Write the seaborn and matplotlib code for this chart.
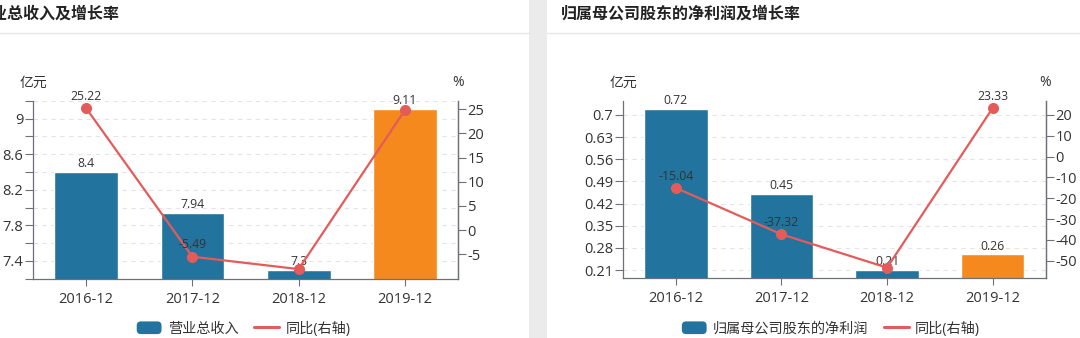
import numpy as np
import pandas as pd
import seaborn as sns
import matplotlib.pyplot as plt
from matplotlib.patches import Rectangle, Patch, FancyBboxPatch
from matplotlib.lines import Line2D
from matplotlib.legend_handler import HandlerPatch

sns.set_theme(style="white")
plt.rcParams["font.family"] = ["Open Sans", "Noto Sans CJK SC", "DejaVu Sans"]
plt.rcParams["axes.unicode_minus"] = False

# ---- data -------------------------------------------------------------
periods = ["2016-12", "2017-12", "2018-12", "2019-12"]

revenue = [8.40, 7.94, 7.30, 9.11]              # 营业总收入 (亿元)
revenue_yoy = [25.22, -5.49, -8.06, 24.79]      # 同比 (%)
revenue_yoy_shown = [True, True, False, False]

profit = [0.72, 0.45, 0.21, 0.26]               # 归母净利润 (亿元)
profit_yoy = [-15.04, -37.32, -53.33, 23.33]    # 同比 (%)
profit_yoy_shown = [True, True, False, True]

revenue_ticks = [7.2, 7.4, 7.6, 7.8, 8.0, 8.2, 8.4, 8.6, 8.8, 9.0, 9.2]
revenue_tick_labels = ["", "7.4", "", "7.8", "", "8.2", "", "8.6", "", "9", ""]
revenue_yoy_ticks = [-5, 0, 5, 10, 15, 20, 25]
profit_ticks = [0.21, 0.28, 0.35, 0.42, 0.49, 0.56, 0.63, 0.7]
profit_tick_labels = ["0.21", "0.28", "0.35", "0.42", "0.49", "0.56", "0.63", "0.7"]
profit_yoy_ticks = [-50, -40, -30, -20, -10, 0, 10, 20]

# ---- style ------------------------------------------------------------
BLUE = "#22739e"
ORANGE = "#f5891d"
RED = "#e35c5a"
AXIS = "#6e7079"
TEXT = "#333333"
GRID = "#e4e4e4"
TICK_SIZE = 10.5
VALUE_SIZE = 8.8

W, H = 1080, 338
fig = plt.figure(figsize=(W / 100, H / 100), dpi=100)
fig.patch.set_facecolor("white")


def px_axes(x0, y0, x1, y1):
    """Axes placed by pixel box (top-left origin)."""
    return fig.add_axes([x0 / W, 1 - y1 / H, (x1 - x0) / W, (y1 - y0) / H])


class RoundedHandler(HandlerPatch):
    def create_artists(self, legend, orig_handle, xdescent, ydescent,
                       width, height, fontsize, trans):
        p = FancyBboxPatch((-xdescent, -ydescent), width, height,
                           boxstyle="round,pad=0,rounding_size=3",
                           facecolor=orig_handle.get_facecolor(),
                           edgecolor="none", transform=trans)
        return [p]


def draw_panel(box, values, yoy, yoy_shown, ylim, ticks, tick_labels,
               ylim2, ticks2, bar_name, legend_center, value_fmt):
    ax = px_axes(*box)
    df = pd.DataFrame({"period": periods, "value": values})
    colors = [BLUE] * (len(periods) - 1) + [ORANGE]
    sns.barplot(data=df, x="period", y="value", hue="period",
                palette=colors, legend=False, width=0.6, ax=ax,
                saturation=1, zorder=2)
    ax.set_ylim(*ylim)
    ax.set_xlim(-0.5, len(periods) - 0.5)
    ax.set_yticks(ticks)
    ax.set_yticklabels(tick_labels)
    ax.set_xlabel("")
    ax.set_ylabel("")
    ax.yaxis.grid(True, color=GRID, linestyle=(0, (4, 4)), linewidth=0.8)
    ax.set_axisbelow(True)

    ax.spines["top"].set_visible(False)
    for s in ["left", "bottom", "right"]:
        ax.spines[s].set_color(AXIS)
        ax.spines[s].set_linewidth(0.9)

    ax.tick_params(axis="y", left=True, direction="out", length=5.5,
                   width=0.8, color=AXIS, labelsize=TICK_SIZE,
                   labelcolor=TEXT, pad=1.5)
    ax.tick_params(axis="x", bottom=True, direction="out", length=5,
                   width=0.8, color=AXIS, labelsize=TICK_SIZE,
                   labelcolor=TEXT, pad=4.5)

    for i, v in enumerate(values):
        ax.annotate(value_fmt(v), (i, v), xytext=(0, 1.2),
                    textcoords="offset points", ha="center", va="bottom",
                    fontsize=VALUE_SIZE, color=TEXT, zorder=3)

    ax2 = ax.twinx()
    sns.lineplot(x=np.arange(len(periods)), y=yoy, ax=ax2, color=RED,
                 linewidth=1.6, marker="o", markersize=7.2,
                 markeredgecolor=RED, markerfacecolor=RED, zorder=4)
    ax2.set_ylim(*ylim2)
    ax2.set_xlim(-0.5, len(periods) - 0.5)
    ax2.set_yticks(ticks2)
    ax2.set_yticklabels([str(t) for t in ticks2])
    ax2.set_ylabel("")
    ax2.grid(False)
    for s in ["top", "left", "bottom"]:
        ax2.spines[s].set_visible(False)
    ax2.spines["right"].set_color(AXIS)
    ax2.spines["right"].set_linewidth(0.9)
    ax2.tick_params(axis="y", right=True, direction="out", length=5.5,
                    width=0.8, color=AXIS, labelsize=TICK_SIZE,
                    labelcolor=TEXT, pad=1.5)

    for i, (v, show) in enumerate(zip(yoy, yoy_shown)):
        if show:
            ax2.annotate(f"{v:.2f}", (i, v), xytext=(0, 3.8),
                         textcoords="offset points", ha="center", va="bottom",
                         fontsize=VALUE_SIZE, color=TEXT, zorder=5)

    # axis unit captions
    x0, y0, x1, y1 = box
    fig.text(x0 / W, 1 - 83 / H, "亿元", ha="center", va="center",
             fontsize=10, color=TEXT)
    fig.text(x1 / W, 1 - 82 / H, "%", ha="center", va="center",
             fontsize=10, color=TEXT)

    handles = [Patch(facecolor=BLUE),
               Line2D([], [], color=RED, linewidth=2.2)]
    ax.legend(handles, [bar_name, "同比(右轴)"], loc="center",
              bbox_to_anchor=(legend_center / W, 1 - 329 / H),
              bbox_transform=fig.transFigure, ncol=2, frameon=False,
              fontsize=10.2, handlelength=1.75, handleheight=1.0,
              handletextpad=0.45, columnspacing=1.1,
              labelcolor=TEXT,
              handler_map={Patch: RoundedHandler()})
    return ax, ax2


# panel backgrounds: grey gutter and title separators
fig.add_artist(Rectangle((529 / W, 0), 18 / W, 1, transform=fig.transFigure,
                         facecolor="#ebebeb", edgecolor="none", zorder=0))
fig.add_artist(Line2D([0, 529 / W], [1 - 32.5 / H] * 2,
                      transform=fig.transFigure, color="#e6e6e6", linewidth=1))
fig.add_artist(Line2D([547 / W, 1], [1 - 32.5 / H] * 2,
                      transform=fig.transFigure, color="#e6e6e6", linewidth=1))

# panel titles (the left panel is scrolled, so its title starts off-canvas)
fig.text(-25 / W, 1 - 15 / H, "营业总收入及增长率", ha="left", va="center",
         fontsize=11.5, fontweight="bold", color="#222222")
fig.text(561 / W, 1 - 15 / H, "归属母公司股东的净利润及增长率", ha="left",
         va="center", fontsize=11.5, fontweight="bold", color="#222222")

draw_panel((33, 101, 458, 278.5), revenue, revenue_yoy, revenue_yoy_shown,
           (7.2, 9.2), revenue_ticks, revenue_tick_labels,
           (-10, 26.7), revenue_yoy_ticks, "营业总收入", 243.5,
           lambda v: f"{v:g}")

draw_panel((623, 101, 1045.5, 278), profit, profit_yoy, profit_yoy_shown,
           (0.185, 0.744), profit_ticks, profit_tick_labels,
           (-58.3, 26.7), profit_yoy_ticks, "归属母公司股东的净利润", 831,
           lambda v: f"{v:g}")

fig.savefig("out.png", dpi=100, facecolor="white")
